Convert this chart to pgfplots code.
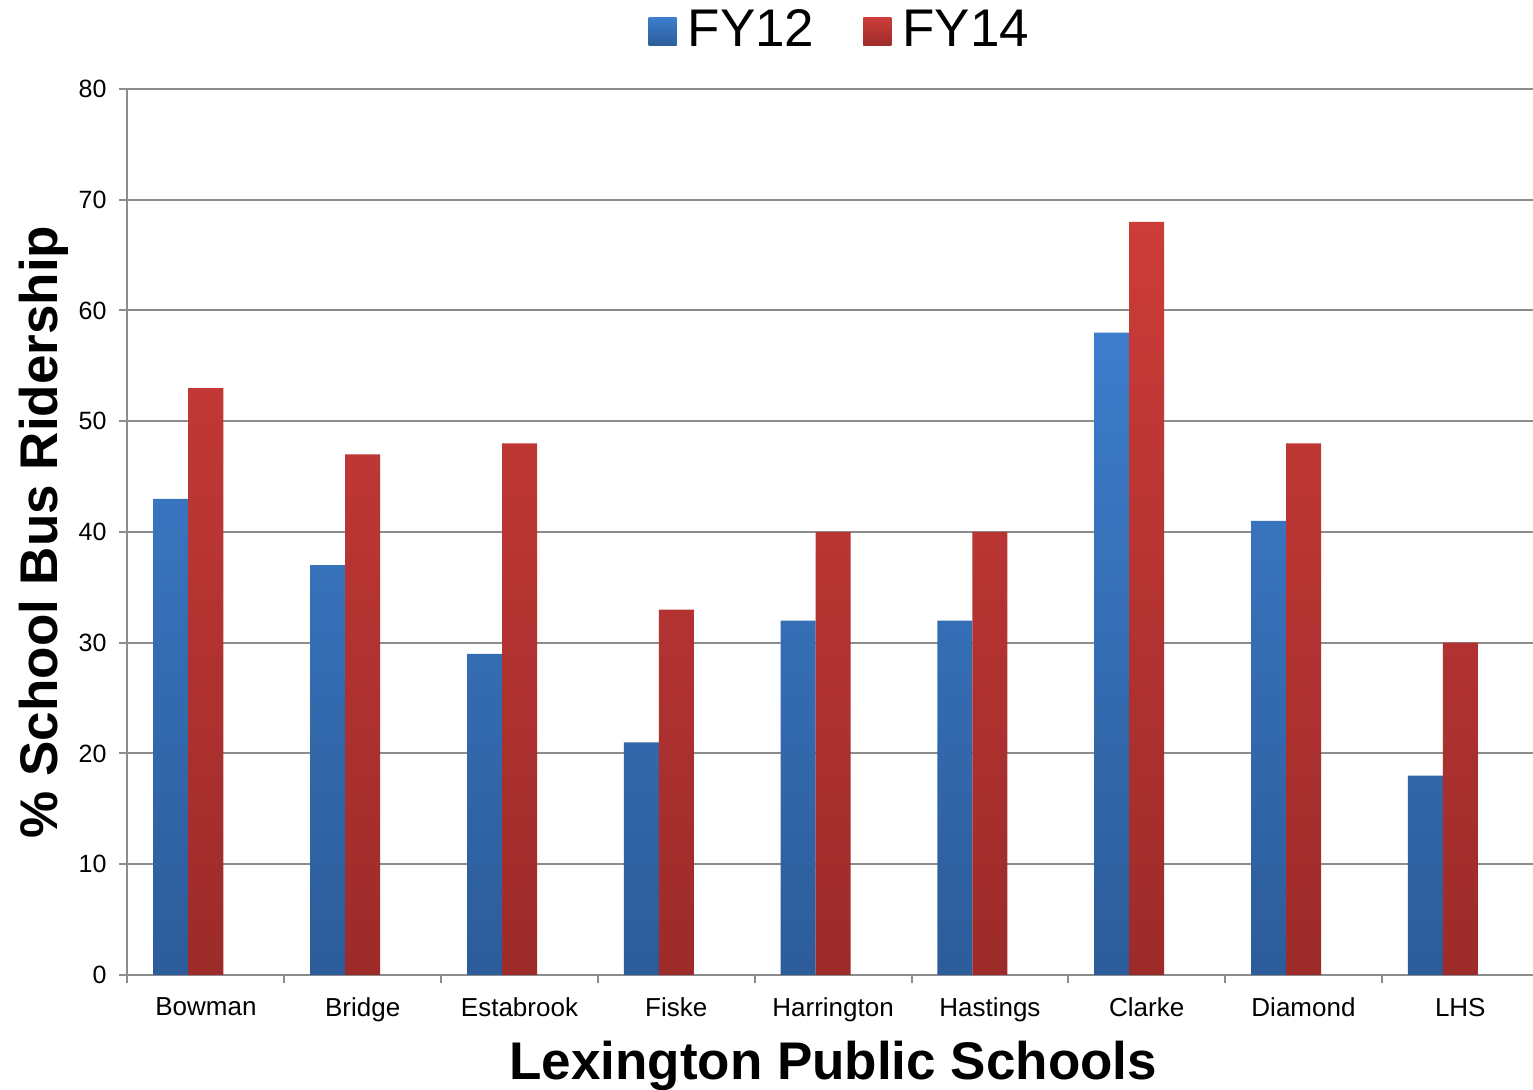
\documentclass[border=0pt]{standalone}
\usepackage{pgfplots}
\pgfplotsset{compat=1.18}
\usepackage{fontspec}
\setmainfont{Liberation Sans}

\definecolor{bluetop}{HTML}{3D7DCC}
\definecolor{bluebot}{HTML}{2C5C99}
\definecolor{redtop}{HTML}{CC3C39}
\definecolor{redbot}{HTML}{9C2B2A}
\definecolor{axisgray}{HTML}{8C8C8C}

\begin{document}
\begin{tikzpicture}
\useasboundingbox (0,0) rectangle (766.5pt,545pt);
\begin{axis}[
  at={(63.75pt,57.5pt)}, anchor=south west,
  scale only axis, width=705.6pt, height=443pt,
  ybar=0pt, bar width=17.5pt,
  xmin=-0.5, xmax=8.5, ymin=0, ymax=80,
  ytick={0,10,...,80},
  xtick={-0.5,0.5,...,8.5}, xticklabels={},
  extra x ticks={0,1,...,8},
  extra x tick labels={Bowman,Bridge,Estabrook,Fiske,Harrington,Hastings,Clarke,Diamond,LHS},
  extra x tick style={major tick length=0pt, grid=none},
  axis x line*=bottom, axis y line*=left,
  axis line style={draw=axisgray, line width=1pt, -},
  ymajorgrids, grid style={draw=axisgray, line width=1pt},
  tick align=outside, major tick length=4pt,
  tick style={draw=axisgray, line width=1pt},
  /pgf/number format/assume math mode=true,
  yticklabel style={font=\fontsize{12.5}{14}\selectfont, xshift=-3pt},
  xticklabel style={font=\fontsize{13}{15}\selectfont, yshift=-8pt},
  xlabel={Lexington Public Schools},
  xlabel style={at={(axis description cs:0.5,0)}, anchor=base, yshift=-52.5pt,
    font=\bfseries\fontsize{26.5}{30}\selectfont},
  ylabel={\% School Bus Ridership},
  ylabel style={at={(axis description cs:-0.0495,0.5)}, anchor=base,
    font=\bfseries\fontsize{26.5}{30}\selectfont},
  legend columns=2,
  legend style={at={(0.5055,1)}, anchor=center, yshift=29.5pt, draw=none,
    font=\fontsize{26.5}{30}\selectfont, inner sep=0pt,
    /tikz/every odd column/.append style={column sep=3.5pt},
    /tikz/every even column/.append style={column sep=22.5pt}},
  legend image code/.code={\path[#1] (0pt,-8pt) rectangle (14pt,6pt);},
]
\addplot[draw=none, top color=bluetop, bottom color=bluebot, bar shift=-17.5pt]
  coordinates {(0,43) (1,37) (2,29) (3,21) (4,32) (5,32) (6,58) (7,41) (8,18)};
\addplot[draw=none, top color=redtop, bottom color=redbot, bar shift=0pt]
  coordinates {(0,53) (1,47) (2,48) (3,33) (4,40) (5,40) (6,68) (7,48) (8,30)};
\legend{FY12,FY14}
\end{axis}
\end{tikzpicture}
\end{document}
